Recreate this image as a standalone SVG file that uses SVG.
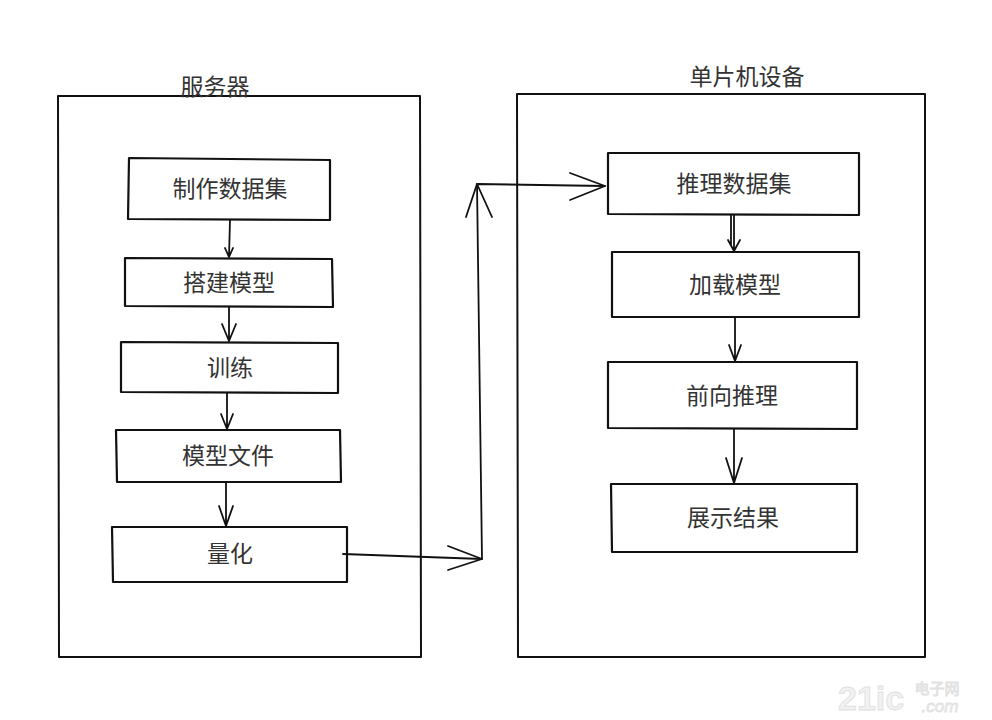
<svg xmlns="http://www.w3.org/2000/svg" width="992" height="720" viewBox="0 0 992 720">
<style>
.frame{fill:none;stroke:#111;stroke-width:2;stroke-linecap:round;stroke-linejoin:round}
.box{fill:#fff;stroke:#111;stroke-width:2.2;stroke-linecap:round;stroke-linejoin:round}
.conn{fill:none;stroke:#111;stroke-width:1.8;stroke-linecap:round;stroke-linejoin:round}
.lbl{font-family:"Noto Sans CJK SC","Noto Sans",sans-serif;font-size:23px;fill:#333;text-anchor:middle}
.wm{fill:#f1f1f1;stroke:#e0e0e0;stroke-width:0.8}
</style>
<rect width="992" height="720" fill="#fff"/>
<g id="server">
<path class="frame" d="M58 96 L420 96 L421 657 L59 657 Z"/>
<text class="lbl" x="215" y="95">服务器</text>
</g>
<g id="mcu">
<path class="frame" d="M517 94 L925 94 L925 657 L518 657 Z"/>
<text class="lbl" x="747" y="85">单片机设备</text>
</g>
<g id="n1">
<path class="box" d="M129 158 L330 160 L330 220 L128 219 Z"/>
<text class="lbl" x="230" y="197">制作数据集</text>
</g>
<g id="n2">
<path class="box" d="M125 258 L332 259 L333 307 L125 306 Z"/>
<text class="lbl" x="229" y="291">搭建模型</text>
</g>
<g id="n3">
<path class="box" d="M121 342 L338 343 L338 393 L121 392 Z"/>
<text class="lbl" x="230" y="376">训练</text>
</g>
<g id="n4">
<path class="box" d="M116 430 L340 430 L341 482 L117 482 Z"/>
<text class="lbl" x="228" y="464">模型文件</text>
</g>
<g id="n5">
<path class="box" d="M112 527 L347 527 L347 582 L113 582 Z"/>
<text class="lbl" x="230" y="562">量化</text>
</g>
<g id="m1">
<path class="box" d="M608 153 L859 153 L859 215 L608 214 Z"/>
<text class="lbl" x="734" y="192">推理数据集</text>
</g>
<g id="m2">
<path class="box" d="M612 252 L859 252 L859 317 L612 317 Z"/>
<text class="lbl" x="735" y="293">加载模型</text>
</g>
<g id="m3">
<path class="box" d="M608 362 L857 362 L857 429 L608 428 Z"/>
<text class="lbl" x="732" y="404">前向推理</text>
</g>
<g id="m4">
<path class="box" d="M611 484 L857 484 L857 552 L612 552 Z"/>
<text class="lbl" x="733" y="526">展示结果</text>
</g>
<g id="connectors">
<path class="conn" d="M230 220 L229 257 M225 248 L229 257 L233 248"/>
<path class="conn" d="M229 307 L229 341 M222 324 L229 341 L236 324"/>
<path class="conn" d="M227 393 L227 429 M221 414 L227 429 L233 414"/>
<path class="conn" stroke-width="2.4" d="M226 482 L226 526 M219 506 L226 526 L233 506"/>
<path class="conn" d="M734 215 L734 251 M731 215 L731 245 M728 240 L734 251 L740 240"/>
<path class="conn" d="M735 317 L735 361 M729 345 L735 361 L741 345"/>
<path class="conn" d="M734 429 L734 483 M726 458 L734 483 L742 458"/>
<path class="conn" d="M343 554 L482 559 L477 184 L605 186"/>
<path class="conn" d="M448 546 L482 559 L448 570"/>
<path class="conn" d="M466 217 L477 184 L492 217"/>
<path class="conn" d="M570 173 L605 186 L570 200"/>
</g>
<g id="watermark">
<text class="wm" x="838" y="710" font-size="34" font-weight="bold" font-family="Liberation Sans, sans-serif">21ic</text>
<text class="wm" x="937" y="694" font-size="15" text-anchor="middle" font-family="Noto Sans CJK SC, sans-serif">电子网</text>
<text class="wm" x="940" y="712" font-size="17" text-anchor="middle" font-style="italic" font-family="Liberation Sans, sans-serif">.com</text>
</g>
</svg>
